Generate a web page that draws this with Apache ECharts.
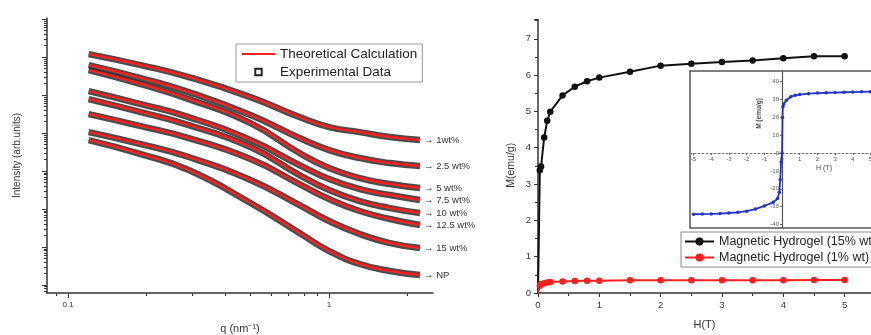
<!DOCTYPE html>
<html>
<head>
<meta charset="utf-8">
<script src="https://cdn.jsdelivr.net/npm/echarts@6/dist/echarts.min.js"></script>
<style>
html,body{margin:0;padding:0;background:#fff}
#chart{width:871px;height:335px}
</style>
</head>
<body>
<div id="chart"></div>
<script>
// left panel: SAXS curves, q in nm^-1, intensity in arb. units
const qVals = [0.12, 0.19, 0.29, 0.5, 0.77, 1.0, 1.31, 1.71, 2.23];
const sampleNames = ['1wt%', '2.5 wt%', '5 wt%', '7.5 wt%', '10 wt%', '12.5 wt%', '15 wt%', 'NP'];
const int1 = [1.2e6, 6.16e5, 2.98e5, 8.86e4, 2.64e4, 1.44e4, 1.06e4, 7.85e3, 6.54e3];
const int25 = [6.16e5, 2.8e5, 1.2e5, 2.98e4, 7.39e3, 3.57e3, 2.2e3, 1.62e3, 1.35e3];
const int5 = [4.55e5, 1.95e5, 7.85e4, 1.83e4, 2.98e3, 1.2e3, 654, 455, 357];
const int75 = [1.27e5, 5.8e4, 2.64e4, 6.54e3, 1.44e3, 616, 336, 234, 173];
const int10 = [7.85e4, 3.57e4, 1.62e4, 4.28e3, 785, 316, 162, 106, 78.5];
const int125 = [3.16e4, 1.53e4, 7.39e3, 2.07e3, 455, 183, 88.6, 54.6, 37.9];
const int15 = [1.06e4, 5.13e3, 2.34e3, 580, 127, 48.3, 22, 12.7, 9.41];
const intNP = [6.54e3, 2.8e3, 1.06e3, 144, 23.4, 7.85, 3.57, 2.34, 1.83];
const qMin = 0.0831, qMax = 2.5;
const iMin = 0.616, iMax = 1.07e7;
const qMajor = [0.1, 1];
const qMinor = [0.09, 0.2, 0.3, 0.4, 0.5, 0.6, 0.7, 0.8, 0.9, 2];
const iMajor = [1, 10, 1e2, 1e3, 1e4, 1e5, 1e6, 1e7];

// right panel: magnetisation M (emu/g) vs H (T)
const hMain = [0, 0.03, 0.05, 0.1, 0.15, 0.2, 0.4, 0.6, 0.8, 1, 1.5, 2, 2.5, 3, 3.5, 4, 4.5, 5];
const m15 = [0, 3.38, 3.48, 4.28, 4.74, 4.99, 5.44, 5.68, 5.83, 5.93, 6.09, 6.26, 6.31, 6.36, 6.4, 6.46, 6.52, 6.52];
const m1 = [0, 0.2, 0.25, 0.27, 0.29, 0.3, 0.32, 0.33, 0.34, 0.34, 0.35, 0.35, 0.35, 0.35, 0.35, 0.35, 0.36, 0.36];

// inset: full loop
const hLoop = [-5, -4.5, -4, -3.5, -3, -2.5, -2, -1.5, -1, -0.5, -0.25, -0.15, -0.1, -0.05, 0, 0.03, 0.05, 0.1, 0.25, 0.5, 0.75, 1, 1.5, 2, 2.5, 3, 3.5, 4, 4.5, 5];
const mLoop = [-34.3, -34.2, -34.1, -33.9, -33.6, -33.2, -32.6, -31.4, -29.6, -27.6, -25.5, -22, -15, -5, 0, 20, 26, 27.5, 29.6, 31.6, 32.4, 32.8, 33.3, 33.6, 33.8, 33.9, 34.1, 34.2, 34.3, 34.4];
const hLoopTicks = [-5, -4, -3, -2, -1, 0, 1, 2, 3, 4, 5];
const mLoopTicks = [-40, -30, -20, -10, 0, 10, 20, 30, 40];
const hLoopMin = -5.2, hLoopMax = 5.2, mLoopMin = -42, mLoopMax = 46;

const font = 'Liberation Sans, Arial, sans-serif';
const axisColor = '#333';
const lg = v => Math.log10(v);
const inset = {left: 690, top: 71, width: 184, height: 157};

function iMinor() {
    let out = [];
    for (let e = -1; e <= 6; e++)
        for (let k = 2; k <= 9; k++) {
            let v = k * Math.pow(10, e);
            if (v > iMin && v < iMax) out.push(lg(v));
        }
    return out;
}

const curves = [int1, int25, int5, int75, int10, int125, int15, intNP];
let series = [];
curves.forEach(function (vals, i) {
    let pts = qVals.map((q, j) => [q, vals[j]]);
    series.push({
        name: 'Experimental Data', type: 'line', xAxisIndex: 0, yAxisIndex: 0,
        data: pts, smooth: 0.5, symbol: 'emptyRect', showSymbol: false, silent: true,
        itemStyle: {color: '#222'},
        lineStyle: {color: '#2c2c2c', width: 6.5, opacity: 0.85}, z: 2
    });
    series.push({
        name: 'Theoretical Calculation', type: 'line', xAxisIndex: 0, yAxisIndex: 0,
        data: pts, smooth: 0.5, showSymbol: false, silent: true,
        itemStyle: {color: '#ff1f1f'},
        lineStyle: {color: '#ff1f1f', width: 2.5}, z: 3,
        endLabel: {
            show: true, distance: 4, fontSize: 9.5, color: '#333', fontFamily: font,
            formatter: () => '\u2192 ' + sampleNames[i]
        }
    });
});

function hideOrigin(h, m) {
    return h.map((x, j) => x === 0 ? {value: [x, m[j]], symbol: 'none'} : [x, m[j]]);
}
series.push({
    name: 'Magnetic Hydrogel (15% wt)', type: 'line', xAxisIndex: 3, yAxisIndex: 3,
    data: hideOrigin(hMain, m15), symbol: 'circle', symbolSize: 6.5,
    itemStyle: {color: '#111'}, lineStyle: {color: '#111', width: 2}
});
series.push({
    name: 'Magnetic Hydrogel (1% wt)', type: 'line', xAxisIndex: 3, yAxisIndex: 3,
    data: hideOrigin(hMain, m1), symbol: 'circle', symbolSize: 6.5,
    itemStyle: {color: '#ff1f1f'}, lineStyle: {color: '#ff1f1f', width: 2}
});
series.push({
    name: 'loop', type: 'line', xAxisIndex: 4, yAxisIndex: 4,
    data: hLoop.map((h, j) => [h, mLoop[j]]), symbol: 'circle', symbolSize: 3.5,
    itemStyle: {color: '#2233cc'}, lineStyle: {color: '#2233cc', width: 1.8}, z: 5
});

// inset axes cross at zero: shift them inward from the box edges
const insetXOffset = -inset.height * (0 - mLoopMin) / (mLoopMax - mLoopMin);
const insetYOffset = -inset.width * (0 - hLoopMin) / (hLoopMax - hLoopMin);

let chart = echarts.init(document.getElementById('chart'));
let option = {
    animation: false,
    textStyle: {fontFamily: font},
    grid: [
        {left: 47, top: 18, width: 386, height: 275, outerBoundsMode: 'none'},
        {left: 538, top: 19.5, right: 0, height: 273.5, outerBoundsMode: 'none'},
        Object.assign({show: true, backgroundColor: '#fff', borderColor: '#555', borderWidth: 1.5, outerBoundsMode: 'none'}, inset)
    ],
    legend: [
        {
            left: 236, top: 44, orient: 'vertical', itemWidth: 33, itemHeight: 8, itemGap: 4,
            padding: [3, 5, 3, 5], borderColor: '#999', borderWidth: 1, backgroundColor: '#fff',
            selectedMode: false, textStyle: {fontSize: 13.5, color: '#222', fontFamily: font},
            data: [
                {name: 'Theoretical Calculation', itemStyle: {opacity: 0}},
                {name: 'Experimental Data', lineStyle: {opacity: 0}}
            ]
        },
        {
            left: 681, top: 232, orient: 'vertical', itemWidth: 29, itemHeight: 10, itemGap: 3,
            padding: [3, 4, 3, 3], borderColor: '#888', borderWidth: 1, backgroundColor: '#fff',
            selectedMode: false, textStyle: {fontSize: 12.5, color: '#222', fontFamily: font},
            data: ['Magnetic Hydrogel (15% wt)', 'Magnetic Hydrogel (1% wt)']
        }
    ],
    xAxis: [
        {type: 'log', gridIndex: 0, position: 'bottom', min: qMin, max: qMax, show: false},
        {
            type: 'value', gridIndex: 0, position: 'bottom', offset: 0, min: lg(qMin), max: lg(qMax),
            axisLine: {onZero: false, lineStyle: {color: axisColor, width: 1.5}},
            axisTick: {customValues: qMajor.map(lg), length: 5, lineStyle: {color: axisColor}},
            axisLabel: {customValues: qMajor.map(lg), formatter: v => String(+Math.pow(10, v).toPrecision(3)), fontSize: 8, color: '#333', margin: 8},
            splitLine: {show: false},
            name: 'q (nm\u207B\u00B9)', nameLocation: 'middle', nameGap: 30,
            nameTextStyle: {fontSize: 11, color: '#333'}
        },
        {
            type: 'value', gridIndex: 0, position: 'bottom', offset: 0, min: lg(qMin), max: lg(qMax),
            axisLine: {show: false, onZero: false},
            axisTick: {customValues: qMinor.map(lg), length: 3, lineStyle: {color: axisColor}},
            axisLabel: {show: false}, splitLine: {show: false}
        },
        {
            type: 'value', gridIndex: 1, position: 'bottom', min: 0, max: 5.43, interval: 1,
            axisLine: {onZero: false, lineStyle: {color: axisColor, width: 1.5}},
            axisTick: {length: 4, lineStyle: {color: axisColor}},
            minorTick: {show: true, splitNumber: 2, length: 3, lineStyle: {color: axisColor}},
            axisLabel: {fontSize: 9.5, color: '#333', margin: 7, showMaxLabel: false},
            splitLine: {show: false},
            name: 'H(T)', nameLocation: 'middle', nameGap: 26,
            nameTextStyle: {fontSize: 11, color: '#333'}
        },
        {
            type: 'value', gridIndex: 2, position: 'bottom', offset: insetXOffset, min: hLoopMin, max: hLoopMax,
            axisLine: {onZero: false, lineStyle: {color: '#777', width: 1, type: [2, 2]}},
            axisTick: {customValues: hLoopTicks, length: 2, lineStyle: {color: '#666'}},
            axisLabel: {customValues: hLoopTicks, fontSize: 6, color: '#555', margin: 3},
            splitLine: {show: false},
            name: 'H (T)', nameLocation: 'middle', nameGap: 11,
            nameTextStyle: {fontSize: 7, color: '#444', padding: [0, 0, 0, 84]}
        }
    ],
    yAxis: [
        {type: 'log', gridIndex: 0, position: 'left', min: iMin, max: iMax, show: false},
        {
            type: 'value', gridIndex: 0, position: 'left', offset: 0, min: lg(iMin), max: lg(iMax),
            axisLine: {show: true, onZero: false, lineStyle: {color: axisColor, width: 1.5}},
            axisTick: {show: true, customValues: iMajor.map(lg), length: 5, lineStyle: {color: axisColor}},
            axisLabel: {show: false}, splitLine: {show: false},
            name: 'Intensity (arb.units)', nameLocation: 'middle', nameGap: 25,
            nameTextStyle: {fontSize: 10, color: '#333'}
        },
        {
            type: 'value', gridIndex: 0, position: 'left', offset: 0, min: lg(iMin), max: lg(iMax),
            axisLine: {show: false, onZero: false},
            axisTick: {show: true, customValues: iMinor(), length: 3, lineStyle: {color: axisColor}},
            axisLabel: {show: false}, splitLine: {show: false}
        },
        {
            type: 'value', gridIndex: 1, position: 'left', min: 0, max: 7.53, interval: 1,
            axisLine: {show: true, onZero: false, lineStyle: {color: axisColor, width: 1.5}},
            axisTick: {show: true, length: 4, lineStyle: {color: axisColor}},
            minorTick: {show: true, splitNumber: 2, length: 3, lineStyle: {color: axisColor}},
            axisLabel: {fontSize: 9.5, color: '#333', margin: 7, showMaxLabel: false},
            splitLine: {show: false},
            name: 'M(emu/g)', nameLocation: 'middle', nameGap: 21,
            nameTextStyle: {fontSize: 10.5, color: '#333', padding: [0, 18, 0, 0]}
        },
        {
            type: 'value', gridIndex: 2, position: 'left', offset: insetYOffset, min: mLoopMin, max: mLoopMax,
            axisLine: {show: true, onZero: false, lineStyle: {color: '#555', width: 1.2}},
            axisTick: {show: true, customValues: mLoopTicks, length: 2, lineStyle: {color: '#666'}},
            axisLabel: {customValues: mLoopTicks, fontSize: 6, color: '#555', margin: 3},
            splitLine: {show: false},
            name: 'M (emu/g)', nameLocation: 'middle', nameGap: 19,
            nameTextStyle: {fontSize: 6.5, fontWeight: 'bold', color: '#444', padding: [0, 0, 0, 72]}
        }
    ],
    series: series
};
chart.setOption(option);
</script>
</body>
</html>
